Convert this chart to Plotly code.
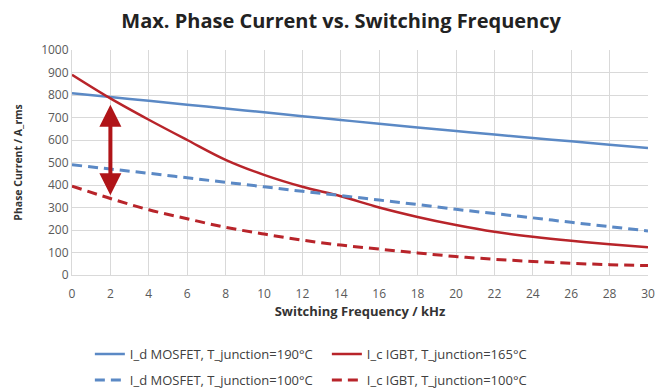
import plotly.graph_objects as go

freq = [0, 2, 4, 6, 8, 10, 12, 14, 16, 18, 20, 22, 24, 26, 28, 30]
mosfet_190 = [808, 791, 774, 757, 740, 723, 706, 689, 672, 656, 640, 624, 609, 594, 579, 564]
igbt_165 = [890, 785, 690, 600, 512, 445, 392, 350, 300, 258, 222, 192, 170, 152, 137, 123]
mosfet_100 = [490, 471, 452, 432, 412, 392, 372, 353, 333, 313, 292, 273, 254, 234, 215, 196]
igbt_100 = [395, 340, 290, 250, 212, 182, 155, 133, 115, 98, 82, 70, 60, 52, 46, 42]

arrow_x = 2
arrow_top = 763
arrow_bottom = 355

blue = "#5b89c5"
red = "#b8242a"
dash = "10px,6px"

fig = go.Figure()
fig.add_trace(go.Scatter(x=freq, y=mosfet_190, mode="lines", name="I_d MOSFET, T_junction=190°C",
                         line=dict(color=blue, width=2.5), line_shape="spline", legend="legend"))
fig.add_trace(go.Scatter(x=freq, y=igbt_165, mode="lines", name="I_c IGBT, T_junction=165°C",
                         line=dict(color=red, width=2.5), line_shape="spline", legend="legend"))
fig.add_trace(go.Scatter(x=freq, y=mosfet_100, mode="lines", name="I_d MOSFET, T_junction=100°C",
                         line=dict(color=blue, width=3, dash=dash), line_shape="spline", legend="legend2"))
fig.add_trace(go.Scatter(x=freq, y=igbt_100, mode="lines", name="I_c IGBT, T_junction=100°C",
                         line=dict(color=red, width=3, dash=dash), line_shape="spline", legend="legend2"))

fig.add_annotation(x=arrow_x, y=arrow_bottom, ax=arrow_x, ay=arrow_top, xref="x", yref="y",
                   axref="x", ayref="y", showarrow=True, arrowhead=2, startarrowhead=2,
                   arrowside="end+start", arrowwidth=4, arrowsize=1.1, startarrowsize=1.1,
                   arrowcolor="#b01418", text="")

leg_common = dict(orientation="h", xanchor="left", yanchor="middle",
                  entrywidth=192, entrywidthmode="pixels", traceorder="normal",
                  font=dict(size=13, color="#404040"), bgcolor="rgba(0,0,0,0)")

fig.update_layout(
    width=656, height=389,
    margin=dict(l=72, r=8, t=50, b=114, autoexpand=False),
    paper_bgcolor="white", plot_bgcolor="white",
    font=dict(family="Open Sans, Liberation Sans, sans-serif", color="#404040", size=12),
    title=dict(text="<b>Max. Phase Current vs. Switching Frequency</b>", x=0.52, xanchor="center",
               y=0.947, yanchor="middle", font=dict(size=20, color="#222222")),
    showlegend=True,
    legend=dict(x=0.031, y=-0.351, **leg_common),
    legend2=dict(x=0.031, y=-0.467, **leg_common),
)
fig.update_xaxes(range=[0, 30], dtick=2, showgrid=True, gridcolor="#d9d9d9", gridwidth=1,
                 showline=True, linecolor="#d9d9d9", zeroline=False,
                 ticks="outside", ticklen=8, tickcolor="rgba(0,0,0,0)",
                 tickfont=dict(size=12, color="#595959"),
                 title=dict(text="<b>Switching Frequency / kHz</b>", font=dict(size=13, color="#333333"), standoff=4))
fig.update_yaxes(range=[0, 1000], dtick=100, showgrid=True, gridcolor="#d9d9d9", gridwidth=1,
                 showline=True, linecolor="#d9d9d9", zeroline=False, ticks="",
                 tickfont=dict(size=12, color="#595959"),
                 title=dict(text="<b>Phase Current / A_rms</b>", font=dict(size=10.5, color="#333333"), standoff=16))

fig.write_html("out.html", config={"displayModeBar": False},
               post_script="document.body.style.margin='0';")
